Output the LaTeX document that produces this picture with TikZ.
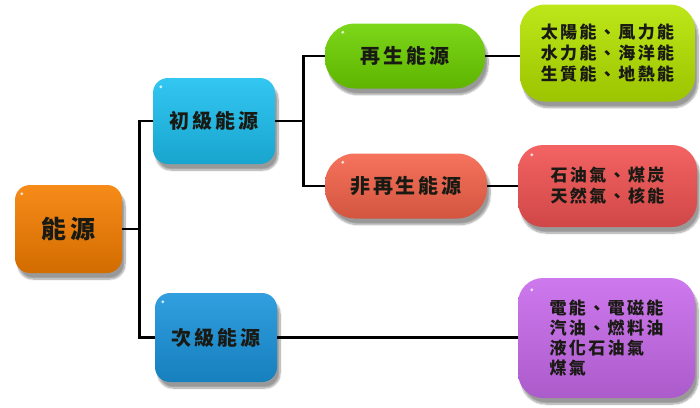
\documentclass[tikz,border=0pt]{standalone}
\usepackage{fontspec}
\newfontfamily\cjk[LetterSpace=14]{Noto Sans CJK TC}
\usetikzlibrary{shadows.blur,calc}
\definecolor{cOrange}{HTML}{F57E00}
\definecolor{cCyan}{HTML}{1CC0F0}
\definecolor{cBlue}{HTML}{1A94DC}
\definecolor{cGreen}{HTML}{6ED200}
\definecolor{cRed}{HTML}{F5634A}
\definecolor{cLime}{HTML}{B6E400}
\definecolor{cRed2}{HTML}{F25252}
\definecolor{cPurple}{HTML}{C86AEC}
\definecolor{cText}{HTML}{1A1A14}
\tikzset{
  btn/.style={rounded corners=#1, inner sep=0pt, text=cText,
    blur shadow={shadow xshift=3pt, shadow yshift=-6pt, shadow blur steps=10, shadow opacity=40}},
  glossy/.style={top color=#1!90!white, middle color=#1, bottom color=#1!86!black},
  conn/.style={line width=2.6pt, black},
  hl/.style={fill=white, opacity=0.8}
}
\begin{document}
\begin{tikzpicture}[x=1pt,y=-1pt]
\useasboundingbox (0,0) rectangle (700,407);
% level 0
\node[btn=15pt, glossy=cOrange, minimum width=107pt, minimum height=88pt,
  font=\cjk\bfseries\fontsize{25}{28}\selectfont] (root) at (68.5,229) {能源};
% level 1
\node[btn=15pt, glossy=cCyan, minimum width=122pt, minimum height=86pt,
  font=\cjk\bfseries\fontsize{20}{23}\selectfont] (p1) at (214,121) {初級能源};
\node[btn=15pt, glossy=cBlue, minimum width=122pt, minimum height=89pt,
  font=\cjk\bfseries\fontsize{20}{23}\selectfont] (p2) at (216,337.5) {次級能源};
% level 2
\node[btn=30pt, glossy=cGreen, minimum width=160pt, minimum height=65pt,
  font=\cjk\bfseries\fontsize{20}{23}\selectfont] (r1) at (405,56) {再生能源};
\node[btn=30pt, glossy=cRed, minimum width=162pt, minimum height=65pt,
  font=\cjk\bfseries\fontsize{20}{23}\selectfont] (r2) at (406,186) {非再生能源};
% level 3
\node[btn=25pt, glossy=cLime, minimum width=175pt, minimum height=97pt, align=left,
  font=\cjk\bfseries\fontsize{17}{21}\selectfont] (g) at (607.5,53) {太陽能、風力能\\水力能、海洋能\\生質能、地熱能};
\node[btn=25pt, glossy=cRed2, minimum width=179pt, minimum height=82pt, align=left,
  font=\cjk\bfseries\fontsize{17}{21}\selectfont] (rd) at (607.5,186) {石油氣、煤炭\\天然氣、核能};
\node[btn=25pt, glossy=cPurple, minimum width=177pt, minimum height=120pt, align=left,
  font=\cjk\bfseries\fontsize{17}{20}\selectfont] (pu) at (606.5,338) {電能、電磁能\\汽油、燃料油\\液化石油氣\\煤氣};
% highlights
\fill[hl] ($(root.north west)+(7,9)$) circle (1.6);
\fill[hl] ($(p1.north west)+(8,9)$) circle (1.6);
\fill[hl] ($(p2.north west)+(8,9)$) circle (1.6);
\fill[hl] ($(r1.north west)+(18,9)$) circle (1.6);
\fill[hl] ($(r2.north west)+(18,9)$) circle (1.6);
\fill[hl] ($(rd.north west)+(14,10)$) circle (1.6);
\fill[hl] ($(pu.north west)+(14,12)$) circle (1.6);
% connectors
\draw[conn] (root.east) -- ++(17,0) coordinate (t0);
\draw[conn] (p1.west) -| (t0) |- (p2.west);
\draw[conn] (p1.east) -- ++(28,0) coordinate (t1);
\draw[conn] (r1.west) -| (t1) |- (r2.west);
\draw[conn] (r1.east) -- (r1.east -| g.west);
\draw[conn] (r2.east) -- (r2.east -| rd.west);
\draw[conn] (p2.east) -- (p2.east -| pu.west);
\end{tikzpicture}
\end{document}
